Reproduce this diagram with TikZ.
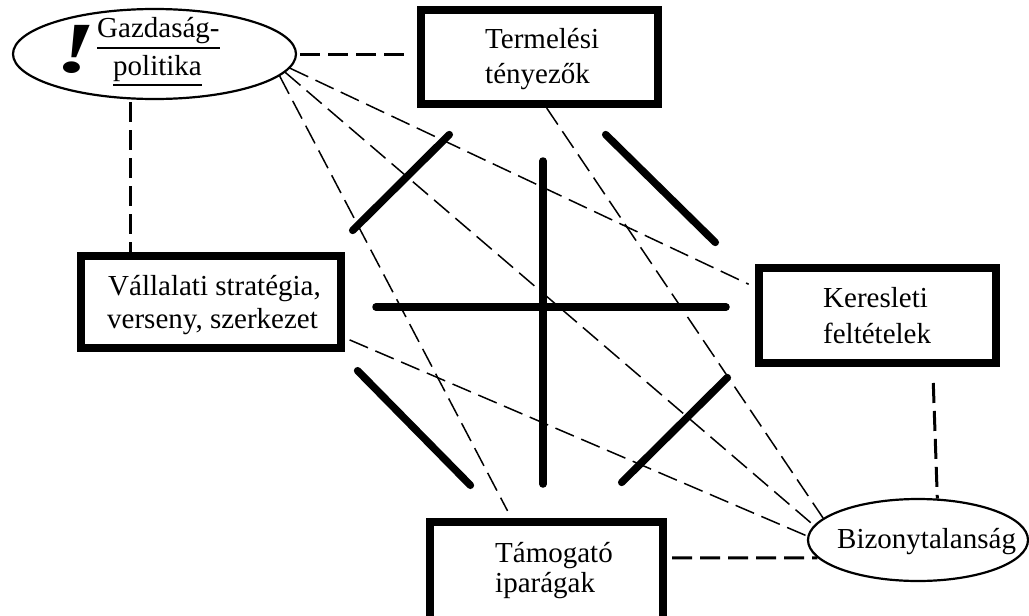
\documentclass[tikz,border=0pt]{standalone}
\usepackage{fontspec}
\usepackage{graphicx}
\setmainfont{Liberation Serif}
\usetikzlibrary{shapes.geometric}
\begin{document}
\begin{tikzpicture}[x=1pt,y=-1pt,
  boxnode/.style={draw, rectangle, line width=8pt, inner sep=0pt},
  ellnode/.style={draw, ellipse, line width=2.2pt, inner sep=0pt},
  lbl/.style={inner sep=0pt, anchor=base west, font=\fontsize{29}{35}\selectfont},
  uline/.style={line width=1.3pt},
  dthin/.style={line width=1.5pt, dash pattern=on 20pt off 8pt},
  dthick/.style={line width=3pt, dash pattern=on 20pt off 8pt},
  heavy/.style={line width=7.5pt, line cap=round}]
\fill[white] (0,0) rectangle (1029,616);
\useasboundingbox (0,0) rectangle (1029,616);
\clip (0,0) rectangle (1029,616);

% shapes
\node[ellnode, minimum width=283pt, minimum height=90pt] (gp) at (154.5,54) {};
\node[boxnode, minimum width=237pt, minimum height=94pt] (tt) at (539.5,57) {};
\node[boxnode, minimum width=237pt, minimum height=95pt] (ks) at (877.5,315.5) {};
\node[boxnode, minimum width=260pt, minimum height=92pt] (vs) at (211,302) {};
\node[boxnode, minimum width=233pt, minimum height=114pt] (ta) at (546.5,579) {};
\node[ellnode, minimum width=220pt, minimum height=82pt] (bz) at (918,540) {};

% texts
\node[lbl, font=\fontsize{72}{72}\selectfont\bfseries\itshape] (gpx) at (55,72) {\scalebox{1.45}[1]{!}};
\node[lbl] (gp1) at (97,37) {Gazdaság-};
\node[lbl] (gp2) at (113,75) {politika};
\draw[uline] ([yshift=-11pt]gp1.base west) -- ([yshift=-11pt]gp1.base east);
\draw[uline] ([yshift=-10pt]gp2.base west) -- ([yshift=-10pt]gp2.base east);
\node[lbl] (tt1) at (485,48) {Termelési};
\node[lbl] (tt2) at (485,83) {tényezők};
\node[lbl] (ks1) at (823,307) {Keresleti};
\node[lbl] (ks2) at (823,343) {feltételek};
\node[lbl] (vs1) at (108,295) {Vállalati stratégia,};
\node[lbl] (vs2) at (107,328) {verseny, szerkezet};
\node[lbl] (ta1) at (495,562) {Támogató};
\node[lbl] (ta2) at (495,592) {iparágak};
\node[lbl] (bz1) at (837,548) {Bizonytalanság};

% dashed connectors
\draw[dthick, shorten >=10pt, shorten <=3pt] (gp.east) -- (gp.east -| tt.west);
\draw[dthick, shorten <=3pt] (gp.-118) -- (gp.-118 |- vs.north);
\draw[dthin, shorten >=7pt] (gp.-6) -- (ks.167);
\draw[dthin] (gp.-8) -- (bz.172);
\draw[dthin, shorten >=8pt] (gp.-10) -- (ta.120);
\draw[dthin] (tt.-82) -- (bz.167);
\draw[dthin, shorten <=5pt] (vs.-15) -- (bz.178);
\draw[dthick, shorten <=5pt] (ta.10) -- (bz.190);
\draw[dthick, shorten <=16pt] (ks.-43) -- (bz.65);

% heavy strokes
\draw[heavy] (543,161) -- (543,484);
\draw[heavy] (376,307) -- (726,307);
\draw[heavy] (449.3,134.6) -- (352.7,230.4);
\draw[heavy] (605.7,134.6) -- (715.3,242.4);
\draw[heavy] (357.6,370.7) -- (470.4,485.3);
\draw[heavy] (727.3,377.6) -- (621.7,482.4);
\end{tikzpicture}
\end{document}
